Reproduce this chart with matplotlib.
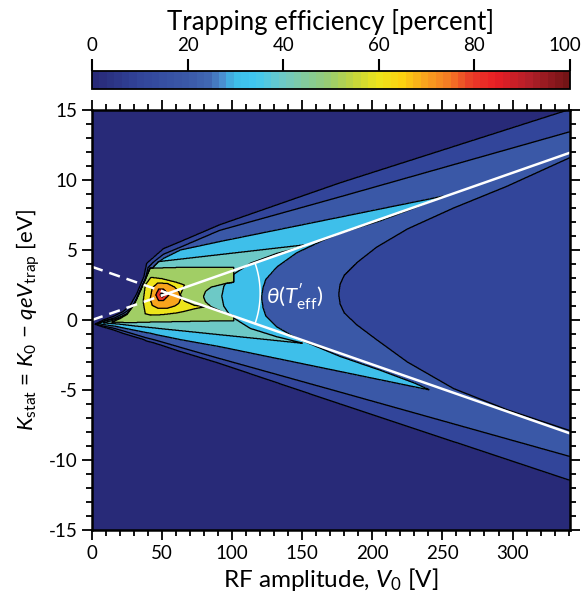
import numpy as np
import matplotlib
matplotlib.use('Agg')
import matplotlib.pyplot as plt
from matplotlib.colors import LinearSegmentedColormap, Normalize
from matplotlib.cm import ScalarMappable
from matplotlib.ticker import MultipleLocator
from matplotlib.transforms import ScaledTranslation

plt.rcParams['font.family'] = ['Lato', 'DejaVu Sans']
plt.rcParams['mathtext.fontset'] = 'custom'
plt.rcParams['mathtext.rm'] = 'Lato'
plt.rcParams['mathtext.it'] = 'Lato:italic'
plt.rcParams['axes.unicode_minus'] = False

# efficiency levels [percent]
levels = [0, 10, 20, 30, 40, 50, 60, 70, 80, 90, 100]

# outer edge of each region (eff >= level): V0 samples, upper / lower K edge
v10 = [2, 8, 15, 22, 27, 32, 37, 39, 43, 51, 63, 91, 177, 341]
top10 = [-0.3, 0.0, 0.25, 0.6, 1.0, 1.9, 3.1, 4.05, 4.4, 5.1, 5.6, 6.8, 9.8, 15.05]
bot10 = [-0.3, -0.5, -0.7, -0.95, -1.1, -1.25, -1.4, -1.5, -1.6, -1.85, -2.25, -3.1, -6.0, -11.45]

v20 = [3, 9, 16, 23, 28, 33, 38, 40, 44, 51, 63, 91, 177, 341]
top20 = [-0.3, -0.05, 0.15, 0.5, 0.85, 1.7, 2.9, 3.75, 4.15, 4.7, 5.2, 6.4, 8.8, 13.45]
bot20 = [-0.3, -0.45, -0.6, -0.8, -0.95, -1.1, -1.25, -1.3, -1.4, -1.6, -1.95, -2.75, -5.15, -9.75]

v30 = [4, 10, 17, 24, 29, 34, 39, 42, 46, 51, 63, 91, 241, 251]
top30 = [-0.25, -0.05, 0.1, 0.4, 0.7, 1.5, 2.7, 3.5, 4.0, 4.4, 5.0, 5.6, 8.65, 8.86]
bot30 = [-0.25, -0.35, -0.45, -0.6, -0.7, -0.8, -0.9, -0.95, -1.05, -1.15, -1.4, -1.9, -5.0, -4.6]

v40 = [8, 14, 20, 25, 30, 35, 40, 44, 47.4, 91, 151]
top40 = [-0.2, -0.05, 0.15, 0.45, 1.1, 2.1, 3.1, 3.8, 4.17, 4.67, 5.36]
bot40 = [-0.2, -0.25, -0.3, -0.36, -0.42, -0.47, -0.52, -0.56, -0.6, -1.05, -1.67]

v50 = [14, 20, 25, 30, 34, 38, 41.4, 60, 80, 101]
top50 = [-0.15, 0.1, 0.4, 1.1, 2.0, 2.9, 3.7, 3.75, 3.76, 3.76]
bot50 = [-0.15, -0.17, -0.18, -0.18, -0.17, -0.16, -0.15, -0.12, -0.08, -0.05]

v60 = [36.5, 38, 42, 50, 60, 66, 73, 80.7]
top60 = [1.3, 2.5, 3.05, 2.95, 2.7, 2.5, 1.6, 1.0]
bot60 = [1.3, 0.45, 0.35, 0.38, 0.5, 0.62, 0.8, 0.95]

v70 = [41.5, 43, 47, 54, 59, 62, 63.5]
top70 = [1.5, 2.3, 2.65, 2.6, 2.35, 2.0, 1.6]
bot70 = [1.5, 1.05, 0.85, 0.85, 1.0, 1.2, 1.6]

v80 = [45.5, 47.5, 51, 55]
top80 = [1.8, 2.2, 2.2, 1.8]
bot80 = [1.8, 1.4, 1.4, 1.8]

v90 = [48.5, 50, 52]
top90 = [1.8, 1.95, 1.8]
bot90 = [1.8, 1.65, 1.8]

# inner notch where the region opens into two branches
nv20 = [176, 177, 180, 189, 203, 225, 258, 296, 341]
ntop20 = [1.85, 2.55, 3.2, 4.1, 5.2, 6.5, 8.0, 9.55, 11.6]
nbot20 = [1.85, 1.15, 0.5, -0.35, -1.4, -3.0, -4.9, -6.4, -7.9]

nv30 = [121, 122, 124, 132, 146, 165, 177, 206, 230, 241, 251]
ntop30 = [1.6, 2.3, 2.9, 3.8, 4.8, 5.7, 6.2, 7.1, 8.0, 8.45, 8.86]
nbot30 = [1.6, 0.9, 0.3, -0.5, -1.3, -2.1, -2.6, -3.6, -4.5, -5.0, -5.4]

nv40 = [92.6, 94, 98.6, 112.9, 132, 151]
ntop40 = [1.7, 2.4, 3.1, 4.05, 4.76, 5.25]
nbot40 = [1.7, 1.0, 0.3, -0.6, -1.2, -1.67]

nv50 = [79.5, 81, 85, 95, 101]
ntop50 = [1.67, 2.05, 2.35, 2.6, 2.7]
nbot50 = [1.67, 1.3, 0.95, 0.5, 0.3]

nv60 = [63, 66, 73, 80.7]
ntop60 = [1.8, 2.5, 2.6, 2.6]
nbot60 = [1.8, 1.35, 1.05, 0.95]

# guide lines through the efficiency maximum
guide_v = [0, 341]
guide_up = [0.0, 11.95]
guide_dn = [3.8, -8.1]
dash_end = 50

# colour map
cmap_pos = [0.0, 0.1, 0.2, 0.24, 0.27, 0.295, 0.34, 0.4, 0.5, 0.55, 0.6, 0.65,
            0.7, 0.75, 0.8, 0.85, 0.92, 1.0]
cmap_col = ['#282a78', '#32469c', '#3b5aa8', '#4068b2', '#4a8fcf', '#3ebde9',
            '#40c8f0', '#70c9c4', '#9acc6d', '#c4d63b', '#ede51c', '#fcd210',
            '#f8a31d', '#f47a24', '#ea3a27', '#e91e25', '#b31f29', '#741416']
cmap = LinearSegmentedColormap.from_list('eff', list(zip(cmap_pos, cmap_col)), N=64)

# build the efficiency map on a fine grid
V = np.linspace(0, 341, 1365)
K = np.linspace(-15, 15, 1201)


def band(v, top, bot):
    hi = np.interp(V, v, top)
    lo = np.interp(V, v, bot)
    cols = (V >= v[0]) & (V <= v[-1])
    return cols & (K[:, None] >= lo) & (K[:, None] <= hi)


regions = [
    (10, (v10, top10, bot10), None),
    (20, (v20, top20, bot20), (nv20, ntop20, nbot20)),
    (30, (v30, top30, bot30), (nv30, ntop30, nbot30)),
    (40, (v40, top40, bot40), (nv40, ntop40, nbot40)),
    (50, (v50, top50, bot50), (nv50, ntop50, nbot50)),
    (60, (v60, top60, bot60), (nv60, ntop60, nbot60)),
    (70, (v70, top70, bot70), None),
    (80, (v80, top80, bot80), None),
    (90, (v90, top90, bot90), None),
]

eff = np.full((K.size, V.size), 5.0)
for lev, outer, notch in regions:
    m = band(*outer)
    if notch is not None:
        m &= ~band(*notch)
    eff[m] = lev + 5

fig = plt.figure(figsize=(5.83, 6.08), dpi=100)
ax = fig.add_axes([92 / 583, 1 - 530 / 608, 478 / 583, 420 / 608])
cax = fig.add_axes([92 / 583, 1 - 89 / 608, 478 / 583, 18 / 608])

# region colours follow the lower bound of each level band
fill_colors = [cmap(l / 100) for l in levels[:-1]]
ax.contourf(V, K, eff, levels=levels, colors=fill_colors)
ax.contour(V, K, eff, levels=levels[1:-1], colors='k', linewidths=0.9)

# guide lines: dashed towards the origin, solid beyond the maximum
gv = np.array(guide_v, float)
for gk in (guide_up, guide_dn):
    gk = np.array(gk, float)
    k_end = np.interp(dash_end, gv, gk)
    ax.plot([gv[0], dash_end], [gk[0], k_end], color='w', lw=1.8,
            dashes=(4.5, 2.8), solid_capstyle='butt')
    ax.plot([dash_end, gv[1]], [k_end, gk[1]], color='w', lw=1.8)

# opening angle arc around the crossing point
s1 = (guide_up[1] - guide_up[0]) / (gv[1] - gv[0])
s2 = (guide_dn[1] - guide_dn[0]) / (gv[1] - gv[0])
vc = (guide_dn[0] - guide_up[0]) / (s1 - s2)
kc = guide_up[0] + s1 * vc
sx = 478 / 341
sy = 420 / 30
r = 92
a1 = np.arctan(s1 * sy / sx)
a2 = np.arctan(s2 * sy / sx)
t = np.linspace(a2, a1, 100)
ax.plot(vc + r / sx * np.cos(t), kc + r / sy * np.sin(t), color='w', lw=1.1)
ax.text(124, 1.6, r"$\theta(T_{\mathrm{eff}}^{\prime})$", color='w',
        fontsize=16, ha='left', va='center')

ax.set_xlim(0, 341)
ax.set_ylim(-15, 15)
ax.set_xticks([0, 50, 100, 150, 200, 250, 300])
ax.set_yticks([-15, -10, -5, 0, 5, 10, 15])
ax.xaxis.set_minor_locator(MultipleLocator(10))
ax.yaxis.set_minor_locator(MultipleLocator(1))
ax.tick_params(which='both', direction='out', top=True, right=True,
               width=1.3, labelsize=13.5)
ax.tick_params(which='major', length=7)
ax.tick_params(which='minor', length=4)
for sp in ax.spines.values():
    sp.set_linewidth(1.8)
ax.set_xlabel(r'RF amplitude, $V_0$ [V]', fontsize=17.5, labelpad=3)
ax.set_ylabel(r'$K_{\mathrm{stat}}$ = $K_0$ − $qeV_{\mathrm{trap}}$ [eV]',
              fontsize=16, labelpad=5)

sm = ScalarMappable(norm=Normalize(0, 100), cmap=cmap)
cb = fig.colorbar(sm, cax=cax, orientation='horizontal',
                  ticks=[0, 20, 40, 60, 80, 100])
cax.xaxis.set_ticks_position('top')
cax.xaxis.set_label_position('top')
cax.tick_params(direction='out', length=9, width=1.5, labelsize=13.5)
cb.outline.set_linewidth(1.3)
cb.set_label('Trapping efficiency [percent]', fontsize=18.5, labelpad=5)
# keep the last colour bar label inside the figure
last = cax.get_xticklabels()[-1]
last.set_transform(last.get_transform()
                   + ScaledTranslation(-4 / 72, 0, fig.dpi_scale_trans))

fig.savefig('out.png', dpi=100)
